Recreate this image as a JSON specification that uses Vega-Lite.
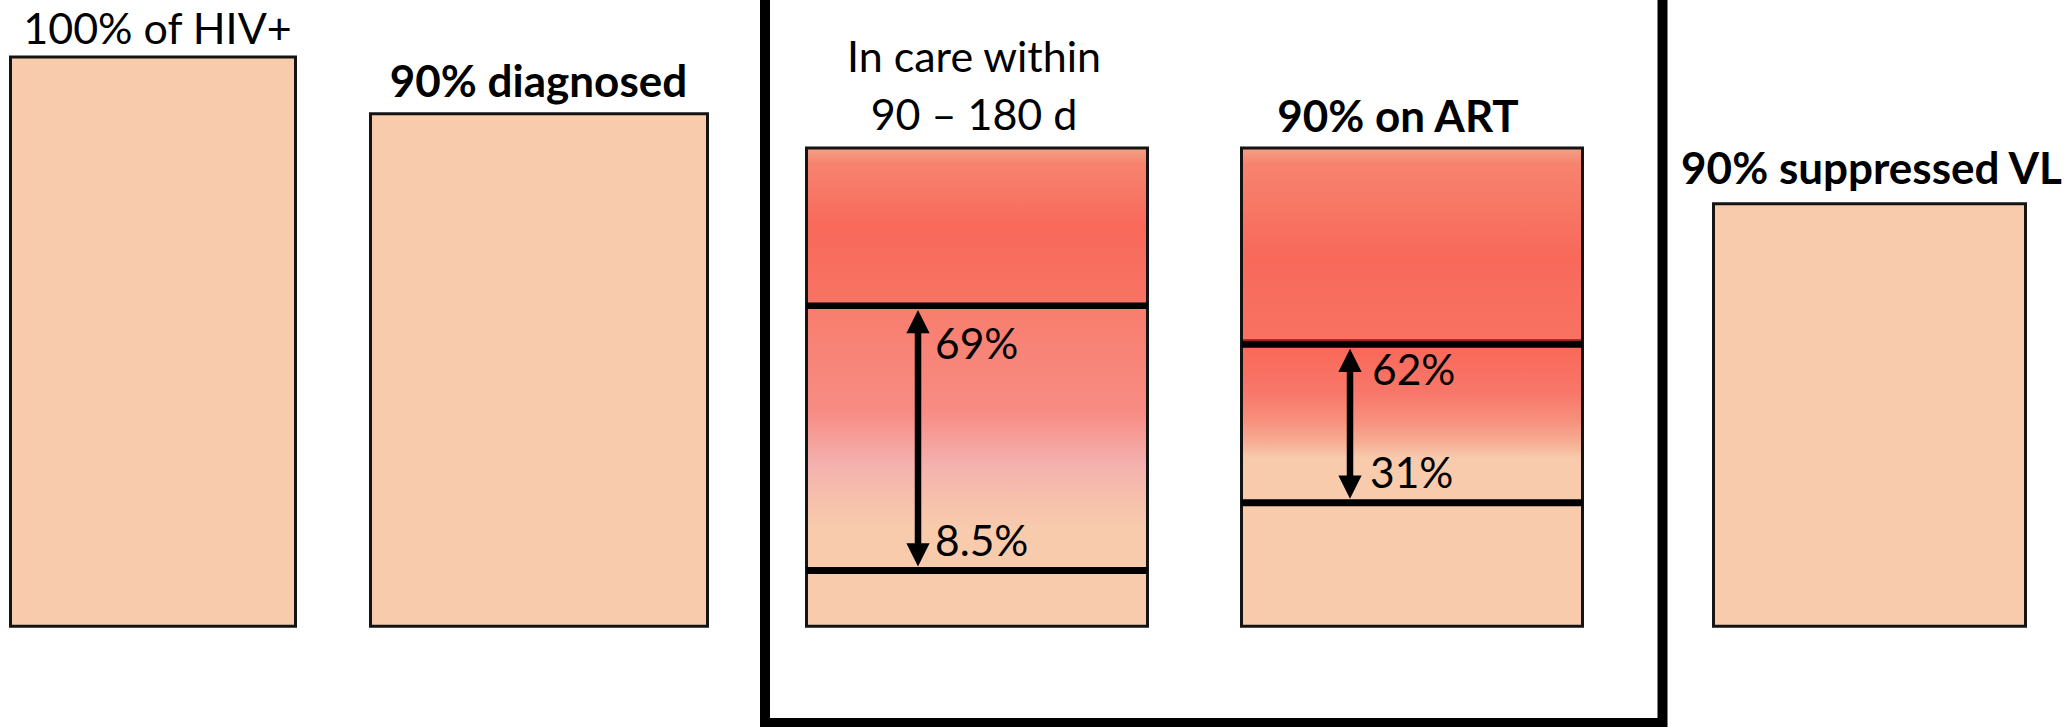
{
  "$schema": "https://vega.github.io/schema/vega-lite/v6.json",
  "description": "HIV care cascade: the 90-90-90 targets, with estimates for retention in care and ART coverage.",
  "width": 2070,
  "height": 727,
  "padding": 0,
  "autosize": {"type": "none"},
  "background": "white",
  "config": {"view": {"stroke": null}},
  "datasets": {
    "stages": [
      {"stage": "100% of HIV+", "left": 1.05, "right": 29.55, "top": 100, "base": 0},
      {"stage": "90% diagnosed", "left": 37.05, "right": 70.75, "top": 90, "base": 0},
      {"stage": "In care within 90 – 180 d", "left": 80.65, "right": 114.75, "top": 84, "base": 0},
      {"stage": "90% on ART", "left": 124.15, "right": 158.25, "top": 84, "base": 0},
      {"stage": "90% suppressed VL", "left": 171.35, "right": 202.55, "top": 74.2, "base": 0}
    ],
    "bands": [
      {"stage": "In care within 90 – 180 d", "band": "above", "left": 80.65, "right": 114.75, "from": 56.3, "to": 84},
      {"stage": "In care within 90 – 180 d", "band": "range", "left": 80.65, "right": 114.75, "from": 9.8, "to": 56.3},
      {"stage": "90% on ART", "band": "above", "left": 124.15, "right": 158.25, "from": 49.5, "to": 84},
      {"stage": "90% on ART", "band": "range", "left": 124.15, "right": 158.25, "from": 21.7, "to": 49.5}
    ],
    "ranges": [
      {"stage": "In care within 90 – 180 d", "left": 80.65, "right": 114.75, "arrow": 91.8, "upper": 56.3, "lower": 9.8},
      {"stage": "90% on ART", "left": 124.15, "right": 158.25, "arrow": 135.0, "upper": 49.5, "lower": 21.7}
    ],
    "estimates": [
      {"text": "69%", "x": 93.5, "y": 47.0},
      {"text": "8.5%", "x": 93.5, "y": 12.3},
      {"text": "62%", "x": 137.2, "y": 42.4},
      {"text": "31%", "x": 137.0, "y": 24.3}
    ],
    "headings": [
      {"text": "100% of HIV+", "target": false, "x": 15.75, "y": 102.35},
      {"text": "90% diagnosed", "target": true, "x": 53.85, "y": 92.96},
      {"text": "In care within", "target": false, "x": 97.4, "y": 97.3},
      {"text": "90 – 180 d", "target": false, "x": 97.4, "y": 87.25},
      {"text": "90% on ART", "target": true, "x": 139.8, "y": 86.9},
      {"text": "90% suppressed VL", "target": true, "x": 187.15, "y": 77.76}
    ],
    "frame": [{"left": 76.5, "right": 166.25, "bottom": -17.0, "top": 130}]
  },
  "layer": [
    {
      "data": {"name": "stages"},
      "mark": {"type": "rect", "fill": "#F8CBAD", "strokeWidth": 0},
      "encoding": {
        "x": {"field": "left", "type": "quantitative", "scale": {"domain": [0, 207], "nice": false, "zero": false}, "axis": null},
        "x2": {"field": "right"},
        "y": {"field": "base", "type": "quantitative", "scale": {"domain": [-17.7, 110], "nice": false, "zero": false}, "axis": null},
        "y2": {"field": "top"}
      }
    },
    {
      "data": {"name": "bands"},
      "transform": [{"filter": "datum.stage === 'In care within 90 – 180 d' && datum.band === 'above'"}],
      "mark": {
        "type": "rect",
        "strokeWidth": 0,
        "fill": {
          "gradient": "linear", "x1": 0, "y1": 0, "x2": 0, "y2": 1,
          "stops": [
            {"offset": 0, "color": "#F4A185"},
            {"offset": 0.1, "color": "#F7836F"},
            {"offset": 0.5, "color": "#F8695A"},
            {"offset": 1, "color": "#F87464"}
          ]
        }
      },
      "encoding": {
        "x": {"field": "left", "type": "quantitative", "scale": {"domain": [0, 207], "nice": false, "zero": false}, "axis": null},
        "x2": {"field": "right"},
        "y": {"field": "from", "type": "quantitative", "scale": {"domain": [-17.7, 110], "nice": false, "zero": false}, "axis": null},
        "y2": {"field": "to"}
      }
    },
    {
      "data": {"name": "bands"},
      "transform": [{"filter": "datum.stage === 'In care within 90 – 180 d' && datum.band === 'range'"}],
      "mark": {
        "type": "rect",
        "strokeWidth": 0,
        "fill": {
          "gradient": "linear", "x1": 0, "y1": 0, "x2": 0, "y2": 1,
          "stops": [
            {"offset": 0, "color": "#F87D6D"},
            {"offset": 0.4, "color": "#F78C84"},
            {"offset": 0.6, "color": "#F4B1AF"},
            {"offset": 0.72, "color": "#F6BFAB"},
            {"offset": 0.84, "color": "#F8CBAD"},
            {"offset": 1, "color": "#F8CBAD"}
          ]
        }
      },
      "encoding": {
        "x": {"field": "left", "type": "quantitative", "scale": {"domain": [0, 207], "nice": false, "zero": false}, "axis": null},
        "x2": {"field": "right"},
        "y": {"field": "from", "type": "quantitative", "scale": {"domain": [-17.7, 110], "nice": false, "zero": false}, "axis": null},
        "y2": {"field": "to"}
      }
    },
    {
      "data": {"name": "bands"},
      "transform": [{"filter": "datum.stage === '90% on ART' && datum.band === 'above'"}],
      "mark": {
        "type": "rect",
        "strokeWidth": 0,
        "fill": {
          "gradient": "linear", "x1": 0, "y1": 0, "x2": 0, "y2": 1,
          "stops": [
            {"offset": 0, "color": "#F4A185"},
            {"offset": 0.08, "color": "#F7836F"},
            {"offset": 0.55, "color": "#F8695A"},
            {"offset": 0.97, "color": "#F87262"},
            {"offset": 0.976, "color": "#9A2418"},
            {"offset": 1, "color": "#6A1008"}
          ]
        }
      },
      "encoding": {
        "x": {"field": "left", "type": "quantitative", "scale": {"domain": [0, 207], "nice": false, "zero": false}, "axis": null},
        "x2": {"field": "right"},
        "y": {"field": "from", "type": "quantitative", "scale": {"domain": [-17.7, 110], "nice": false, "zero": false}, "axis": null},
        "y2": {"field": "to"}
      }
    },
    {
      "data": {"name": "bands"},
      "transform": [{"filter": "datum.stage === '90% on ART' && datum.band === 'range'"}],
      "mark": {
        "type": "rect",
        "strokeWidth": 0,
        "fill": {
          "gradient": "linear", "x1": 0, "y1": 0, "x2": 0, "y2": 1,
          "stops": [
            {"offset": 0, "color": "#FA6757"},
            {"offset": 0.3, "color": "#F8776A"},
            {"offset": 0.48, "color": "#F7907D"},
            {"offset": 0.61, "color": "#F6AB92"},
            {"offset": 0.72, "color": "#F8CBAD"},
            {"offset": 1, "color": "#F8CBAD"}
          ]
        }
      },
      "encoding": {
        "x": {"field": "left", "type": "quantitative", "scale": {"domain": [0, 207], "nice": false, "zero": false}, "axis": null},
        "x2": {"field": "right"},
        "y": {"field": "from", "type": "quantitative", "scale": {"domain": [-17.7, 110], "nice": false, "zero": false}, "axis": null},
        "y2": {"field": "to"}
      }
    },
    {
      "data": {"name": "stages"},
      "mark": {"type": "rect", "fillOpacity": 0, "stroke": "#141414", "strokeWidth": 3},
      "encoding": {
        "x": {"field": "left", "type": "quantitative", "scale": {"domain": [0, 207], "nice": false, "zero": false}, "axis": null},
        "x2": {"field": "right"},
        "y": {"field": "base", "type": "quantitative", "scale": {"domain": [-17.7, 110], "nice": false, "zero": false}, "axis": null},
        "y2": {"field": "top"}
      }
    },
    {
      "data": {"name": "ranges"},
      "mark": {"type": "rule", "color": "#000000", "strokeWidth": 6.5},
      "encoding": {
        "x": {"field": "left", "type": "quantitative", "scale": {"domain": [0, 207], "nice": false, "zero": false}, "axis": null},
        "x2": {"field": "right"},
        "y": {"field": "upper", "type": "quantitative", "scale": {"domain": [-17.7, 110], "nice": false, "zero": false}, "axis": null}
      }
    },
    {
      "data": {"name": "ranges"},
      "mark": {"type": "rule", "color": "#000000", "strokeWidth": 7},
      "encoding": {
        "x": {"field": "left", "type": "quantitative", "scale": {"domain": [0, 207], "nice": false, "zero": false}, "axis": null},
        "x2": {"field": "right"},
        "y": {"field": "lower", "type": "quantitative", "scale": {"domain": [-17.7, 110], "nice": false, "zero": false}, "axis": null}
      }
    },
    {
      "data": {"name": "ranges"},
      "mark": {"type": "rule", "color": "#000000", "strokeWidth": 6.5, "yOffset": 16, "y2Offset": -15.5},
      "encoding": {
        "x": {"field": "arrow", "type": "quantitative", "scale": {"domain": [0, 207], "nice": false, "zero": false}, "axis": null},
        "y": {"field": "upper", "type": "quantitative", "scale": {"domain": [-17.7, 110], "nice": false, "zero": false}, "axis": null},
        "y2": {"field": "lower"}
      }
    },
    {
      "data": {"name": "ranges"},
      "mark": {"type": "point", "shape": "M0,-1L1,1L-1,1Z", "filled": true, "color": "#000000", "opacity": 1, "size": 540, "strokeWidth": 0, "yOffset": 16},
      "encoding": {
        "x": {"field": "arrow", "type": "quantitative", "scale": {"domain": [0, 207], "nice": false, "zero": false}, "axis": null},
        "y": {"field": "upper", "type": "quantitative", "scale": {"domain": [-17.7, 110], "nice": false, "zero": false}, "axis": null}
      }
    },
    {
      "data": {"name": "ranges"},
      "mark": {"type": "point", "shape": "M-1,-1L1,-1L0,1Z", "filled": true, "color": "#000000", "opacity": 1, "size": 540, "strokeWidth": 0, "yOffset": -15.5},
      "encoding": {
        "x": {"field": "arrow", "type": "quantitative", "scale": {"domain": [0, 207], "nice": false, "zero": false}, "axis": null},
        "y": {"field": "lower", "type": "quantitative", "scale": {"domain": [-17.7, 110], "nice": false, "zero": false}, "axis": null}
      }
    },
    {
      "data": {"name": "estimates"},
      "mark": {"type": "text", "font": "Lato", "fontSize": 42.5, "align": "left", "baseline": "alphabetic", "color": "#000000"},
      "encoding": {
        "x": {"field": "x", "type": "quantitative", "scale": {"domain": [0, 207], "nice": false, "zero": false}, "axis": null},
        "y": {"field": "y", "type": "quantitative", "scale": {"domain": [-17.7, 110], "nice": false, "zero": false}, "axis": null},
        "text": {"field": "text"}
      }
    },
    {
      "data": {"name": "headings"},
      "transform": [{"filter": "!datum.target"}],
      "mark": {"type": "text", "font": "Lato", "fontSize": 43, "align": "center", "baseline": "alphabetic", "color": "#000000"},
      "encoding": {
        "x": {"field": "x", "type": "quantitative", "scale": {"domain": [0, 207], "nice": false, "zero": false}, "axis": null},
        "y": {"field": "y", "type": "quantitative", "scale": {"domain": [-17.7, 110], "nice": false, "zero": false}, "axis": null},
        "text": {"field": "text"}
      }
    },
    {
      "data": {"name": "headings"},
      "transform": [{"filter": "datum.target"}],
      "mark": {"type": "text", "font": "Lato", "fontSize": 44, "fontWeight": "bold", "align": "center", "baseline": "alphabetic", "color": "#000000"},
      "encoding": {
        "x": {"field": "x", "type": "quantitative", "scale": {"domain": [0, 207], "nice": false, "zero": false}, "axis": null},
        "y": {"field": "y", "type": "quantitative", "scale": {"domain": [-17.7, 110], "nice": false, "zero": false}, "axis": null},
        "text": {"field": "text"}
      }
    },
    {
      "data": {"name": "frame"},
      "mark": {"type": "rect", "fillOpacity": 0, "stroke": "#000000", "strokeWidth": 10, "clip": true},
      "encoding": {
        "x": {"field": "left", "type": "quantitative", "scale": {"domain": [0, 207], "nice": false, "zero": false}, "axis": null},
        "x2": {"field": "right"},
        "y": {"field": "bottom", "type": "quantitative", "scale": {"domain": [-17.7, 110], "nice": false, "zero": false}, "axis": null},
        "y2": {"field": "top"}
      }
    }
  ]
}
